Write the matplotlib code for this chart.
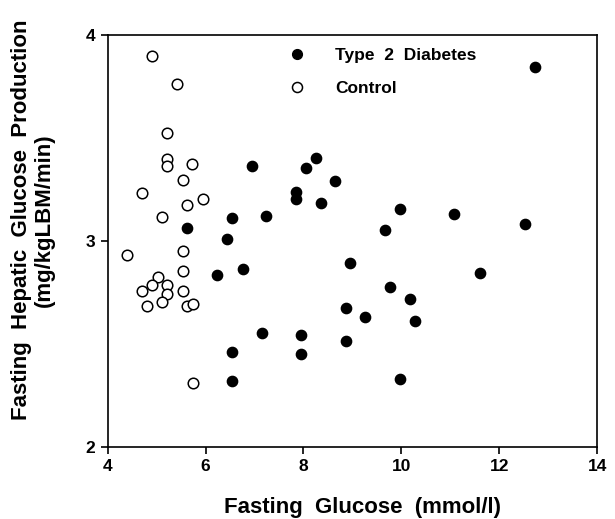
import matplotlib.pyplot as plt

# fasting glucose (mmol/l) and hepatic glucose production (mg/kgLBM/min)
diabetes_glucose = [12.72, 6.94, 8.25, 8.05, 8.65, 7.85, 7.85, 8.35, 7.24, 6.55,
                    5.62, 6.44, 9.97, 11.08, 12.53, 9.66, 8.96, 6.23, 6.76, 11.60,
                    9.76, 10.18, 8.86, 9.26, 10.27, 7.15, 7.95, 7.95, 8.86, 6.55,
                    6.55, 9.97]
diabetes_hgp = [3.846, 3.364, 3.404, 3.352, 3.292, 3.237, 3.202, 3.182, 3.120, 3.111,
                3.062, 3.010, 3.153, 3.132, 3.083, 3.051, 2.892, 2.834, 2.862, 2.845,
                2.774, 2.716, 2.672, 2.631, 2.612, 2.552, 2.542, 2.451, 2.512, 2.461,
                2.319, 2.330]

control_glucose = [4.90, 5.42, 5.22, 5.22, 5.22, 5.72, 5.53, 4.70, 5.94, 5.62,
                   5.12, 4.40, 5.53, 5.53, 5.02, 4.91, 5.22, 4.70, 5.22, 5.53,
                   5.12, 4.81, 5.62, 5.74, 5.74]
control_hgp = [3.895, 3.763, 3.525, 3.396, 3.363, 3.373, 3.294, 3.234, 3.202, 3.174,
               3.114, 2.932, 2.952, 2.855, 2.823, 2.784, 2.784, 2.755, 2.742, 2.755,
               2.704, 2.683, 2.683, 2.693, 2.311]

x_ticks = [4, 6, 8, 10, 12, 14]
y_ticks = [2, 3, 4]

plt.rcParams['font.family'] = ['Liberation Sans', 'DejaVu Sans']
plt.rcParams['font.weight'] = 'bold'
plt.rcParams['axes.labelweight'] = 'bold'

fig = plt.figure(figsize=(6.15, 5.19), dpi=100)
ax = fig.add_axes([0.175, 0.139, 0.796, 0.794])

ax.plot(diabetes_glucose, diabetes_hgp, 'o', color='black', markersize=7.4,
        linestyle='none', label='Type  2  Diabetes')
ax.plot(control_glucose, control_hgp, 'o', markerfacecolor='white', markeredgecolor='black',
        markeredgewidth=1.1, markersize=7.6, linestyle='none', label='Control')

ax.set_xlim(4, 14)
ax.set_ylim(2, 4)
ax.set_xticks(x_ticks)
ax.set_yticks(y_ticks)
ax.tick_params(direction='out', length=5, width=1.2, labelsize=12.5, pad=4)
for s in ax.spines.values():
    s.set_linewidth(1.2)

# axis titles, placed by hand to match the scan
ax.set_xlabel('Fasting  Glucose  (mmol/l)', fontsize=16)
ax.xaxis.set_label_coords(0.521, -0.161, transform=ax.transAxes)
ax.xaxis.label.set_verticalalignment('baseline')
ax.set_ylabel('Fasting  Hepatic  Glucose  Production\n(mg/kgLBM/min)', fontsize=16,
              linespacing=1.1)
ax.yaxis.set_label_coords(-0.108, 0.551)

ax.legend(loc='upper left', bbox_to_anchor=(0.319, 1.005), frameon=False, fontsize=12.5,
          handletextpad=1.2, labelspacing=1.0, markerscale=0.95)

fig.savefig('out.png', dpi=100)
